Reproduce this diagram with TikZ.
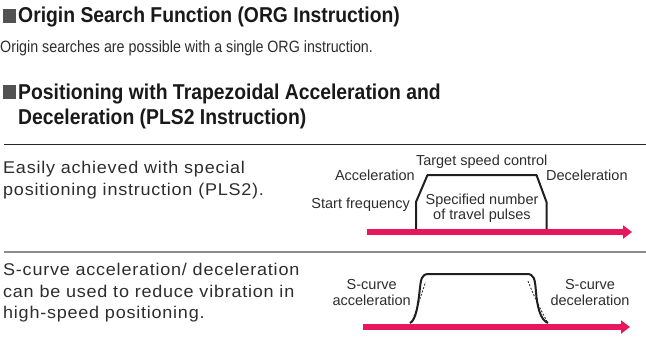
\documentclass[tikz,border=0pt]{standalone}
\usepackage{fontspec}
\setmainfont{Liberation Sans}
\newfontfamily\headFont[FakeStretch=0.9]{Liberation Sans}
\newfontfamily\bodyFont[FakeStretch=0.87]{Liberation Sans}
\newfontfamily\noteFont[FakeStretch=1.06,LetterSpace=4.5]{Liberation Sans}
\usetikzlibrary{arrows.meta}
\definecolor{speedPink}{RGB}{232,22,92}
\definecolor{textGray}{RGB}{45,45,45}
\newcommand{\headSize}{\fontsize{21.5}{26}\selectfont}
\newcommand{\bodySize}{\fontsize{16.4}{18}\selectfont}
\newcommand{\noteSize}{\fontsize{17}{21.5}\selectfont}
\newcommand{\labelSize}{\fontsize{14.5}{14}\selectfont}

\begin{document}
\begin{tikzpicture}[x=1pt,y=-1pt,
   head/.style={anchor=base west,inner sep=0pt,font=\headFont\bfseries\headSize,text=black!90},
   body/.style={anchor=base west,inner sep=0pt,font=\bodyFont\bodySize,text=textGray},
   note/.style={anchor=base west,inner sep=0pt,align=left,font=\noteFont\noteSize,text=textGray},
   lbl/.style={inner sep=0pt,font=\labelSize,text=textGray},
   profile/.style={line width=2pt,color=black!88,line join=round},
   guide/.style={line width=0.9pt,black!80,dash pattern=on 2pt off 1.6pt},
   feed/.style={line width=6.5pt,color=speedPink,-{Triangle[length=9pt,width=13pt]}}]
   \useasboundingbox (0,0) rectangle (646,338);

   % headings
   \fill[black!68] (2.5,8.5) rectangle (16,22.5);
   \node[head] (orgTitle) at (18,22.5) {Origin Search Function (ORG Instruction)};
   \node[body] (orgText) at (0,52.5) {Origin searches are possible with a single ORG instruction.};
   \fill[black!68] (2.5,85) rectangle (16,99);
   \node[head] (plsTitle) at (18,99) {Positioning with Trapezoidal Acceleration and};
   \node[head] (plsTitleB) at (18,124.5) {Deceleration (PLS2 Instruction)};

   \draw[line width=1pt,black!85] (4,144) -- (646,144);
   \draw[line width=1.2pt,black!45] (4,252) -- (646,252);

   \node[note] (plsText) at (3,195) {Easily achieved with special\\positioning instruction (PLS2).};
   \node[note] (sText) at (3,318.5) {S-curve acceleration/ deceleration\\can be used to reduce vibration in\\high-speed positioning.};

   % trapezoid
   \draw[profile] (416,229) -- (416,202) -- (427.5,175) -- (536.5,175)
      -- (546.5,202) -- (546.5,229);
   \coordinate (trapStart) at (367,232);
   \coordinate (trapEnd) at (632,232);
   \draw[feed] (trapStart) -- (trapEnd);
   \node[lbl,anchor=base] (lblTarget) at (481.7,165.7) {Target speed control};
   \node[lbl,anchor=base east] (lblAcc) at (415,180) {Acceleration};
   \node[lbl,anchor=base west] (lblDec) at (546,180) {Deceleration};
   \node[lbl,anchor=base east] (lblStart) at (410,208) {Start frequency};
   \node[lbl,anchor=base] (lblPulsesA) at (482,204.5) {Specified number};
   \node[lbl,anchor=base] (lblPulsesB) at (482,219) {of travel pulses};

   % s-curve
   \draw[guide] (411.5,323) .. controls (416,311) and (421,296) .. (425.5,282);
   \draw[guide] (528,281) .. controls (533,294) and (541,311) .. (548,323);
   \draw[profile] (410,323) .. controls (416,320) and (418,305) .. (419.5,292)
      .. controls (421,279) and (421,274) .. (429,274) -- (527,274)
      .. controls (534,274) and (535,279) .. (536,292)
      .. controls (537,305) and (540,320) .. (548,323);
   \coordinate (sStart) at (363,327);
   \coordinate (sEnd) at (630,327);
   \draw[feed] (sStart) -- (sEnd);
   \node[lbl,anchor=base] (lblSAcc) at (371.7,289) {S-curve};
   \node[lbl,anchor=base] (lblSAccB) at (371.7,305) {acceleration};
   \node[lbl,anchor=base] (lblSDec) at (590,289) {S-curve};
   \node[lbl,anchor=base] (lblSDecB) at (590,305) {deceleration};
\end{tikzpicture}
\end{document}
